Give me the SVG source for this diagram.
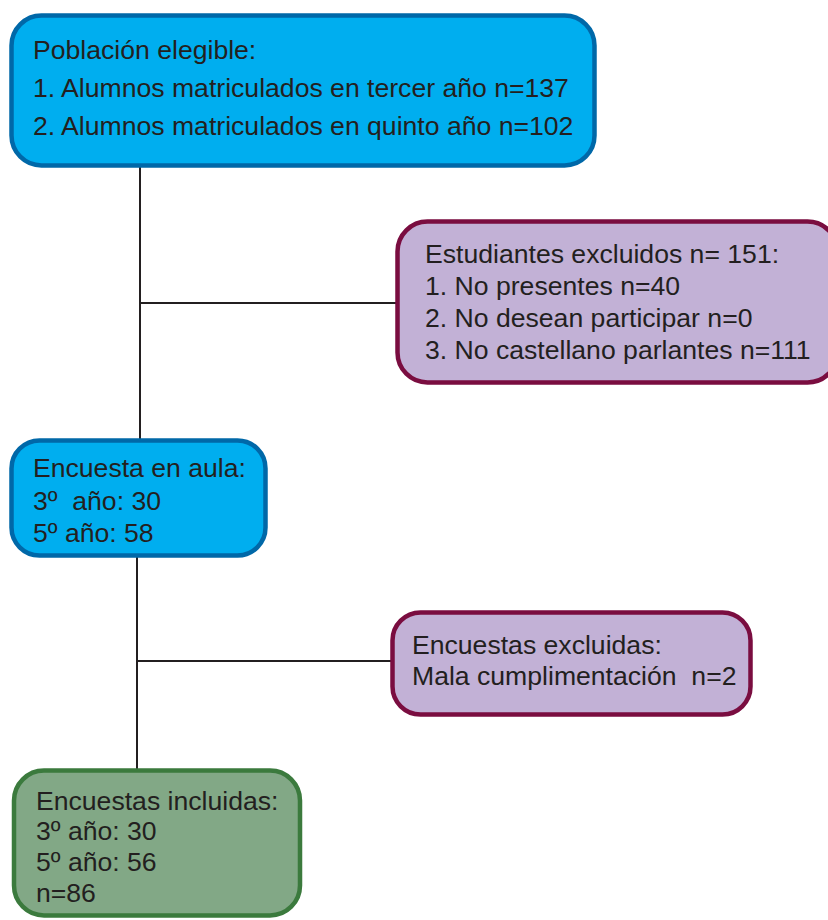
<svg xmlns="http://www.w3.org/2000/svg" width="828" height="920" viewBox="0 0 828 920">
<style>
text{font-family:"Liberation Sans",Arial,sans-serif;font-size:26.6px;fill:#231f20}
.blue{fill:#00aeef;stroke:#0068a8;stroke-width:4.5}
.purple{fill:#c2b1d6;stroke:#7a0d40;stroke-width:4.5}
.green{fill:#82a886;stroke:#3b7a3d;stroke-width:4.5}
.conn{stroke:#231f20;stroke-width:2;fill:none}
</style>
<rect width="828" height="920" fill="#ffffff"/>
<g id="connectors">
<path class="conn" d="M140 166 V440 M140 303 H397"/>
<path class="conn" d="M137 556 V771 M137 661 H392"/>
</g>
<g id="poblacion">
<rect class="blue" x="11.5" y="15.5" width="583" height="150" rx="30"/>
<text x="33" y="59">Población elegible:</text>
<text x="33" y="97">1. Alumnos matriculados en tercer año n=137</text>
<text x="33" y="135">2. Alumnos matriculados en quinto año n=102</text>
</g>
<g id="excluidos">
<rect class="purple" x="397.5" y="221.5" width="440" height="161" rx="30"/>
<text x="425" y="263">Estudiantes excluidos n= 151:</text>
<text x="425" y="295">1. No presentes n=40</text>
<text x="425" y="327">2. No desean participar n=0</text>
<text x="425" y="359">3. No castellano parlantes n=111</text>
</g>
<g id="aula">
<rect class="blue" x="11.5" y="440.5" width="254" height="115" rx="28"/>
<text x="33" y="477">Encuesta en aula:</text>
<text x="33" y="510" xml:space="preserve">3º  año: 30</text>
<text x="33" y="542">5º año: 58</text>
</g>
<g id="encuestas-excluidas">
<rect class="purple" x="392.5" y="612.5" width="358" height="102" rx="28"/>
<text x="412" y="654">Encuestas excluidas:</text>
<text x="412" y="685" xml:space="preserve">Mala cumplimentación  n=2</text>
</g>
<g id="incluidas">
<rect class="green" x="14" y="770.5" width="286" height="145" rx="30"/>
<text x="36" y="810">Encuestas incluidas:</text>
<text x="36" y="840">3º año: 30</text>
<text x="36" y="871">5º año: 56</text>
<text x="36" y="902">n=86</text>
</g>
</svg>
